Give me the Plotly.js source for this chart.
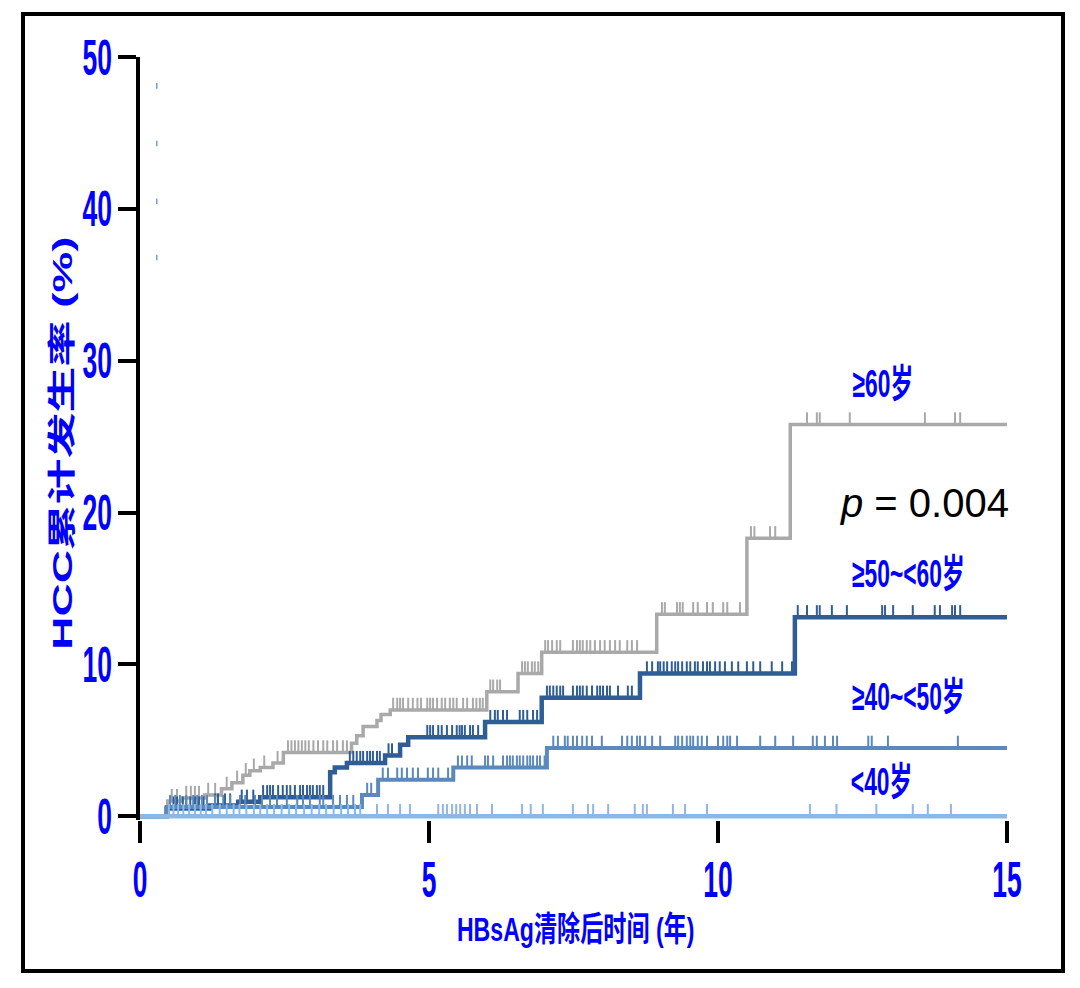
<!DOCTYPE html>
<html>
<head>
<meta charset="utf-8">
<script src="https://cdn.plot.ly/plotly-3.0.1.min.js"></script>
<style>
  html, body { margin: 0; padding: 0; background: #ffffff; }
  #frame { position: absolute; left: 21px; top: 12px; width: 1044px; height: 961px;
           border: 4px solid #000; box-sizing: border-box; }
  #chart { position: absolute; left: 0; top: 0; width: 1080px; height: 988px; }
</style>
</head>
<body>
<div id="frame"></div>
<div id="chart"></div>
<script>
// ---------------- data ----------------
const groupNames = ['≥60岁', '≥50~<60岁', '≥40~<50岁', '<40岁'];
const followUpEnd = 15;
const xTitle = 'HBsAg清除后时间 (年)';
const yTitle = 'HCC累计发生率 (%)';

// ≥60
const eventTimes60 = [0, 0.48, 0.73, 1.12, 1.41, 1.59, 1.78, 1.90, 2.08, 2.30, 2.48, 3.66, 3.75, 3.86, 4.10, 4.17, 4.33, 6.00, 6.54, 6.95, 8.94, 10.50, 11.25];
const cumInc60   = [0, 1.0, 1.2, 1.4, 1.8, 2.2, 2.7, 3.0, 3.2, 3.5, 4.2, 4.8, 5.3, 5.9, 6.3, 6.7, 7.0, 8.2, 9.4, 10.8, 13.3, 18.3, 25.8];
const censor60 = [0.55, 0.64, 0.80, 0.88, 0.95, 1.02, 1.18, 1.30, 1.50, 1.68, 1.83, 1.97, 2.15, 2.38, 2.56, 2.62, 2.68, 2.74, 2.80, 2.86, 2.92, 3.00, 3.08, 3.17, 3.24, 3.34, 3.41, 3.51, 3.58,
  4.38, 4.45, 4.50, 4.55, 4.64, 4.72, 4.80, 4.86, 4.97, 5.02, 5.07, 5.14, 5.22, 5.28, 5.36, 5.42, 5.48, 5.59, 5.66, 5.76, 5.82, 5.88, 5.93,
  6.06, 6.11, 6.18, 6.23, 6.61, 6.66, 6.71, 6.78, 6.83, 6.89,
  7.01, 7.06, 7.13, 7.21, 7.27, 7.49, 7.56, 7.61, 7.66, 7.73, 7.79, 7.87, 7.96, 8.04, 8.13, 8.22, 8.30, 8.43, 8.51, 8.60,
  9.03, 9.08, 9.29, 9.34, 9.39, 9.57, 9.65, 9.81, 9.91, 10.09, 10.16, 10.38,
  10.57, 10.63, 10.90, 10.99, 11.54, 11.71, 11.76, 12.28, 13.58, 14.10, 14.19];

// ≥50~<60
const eventTimes50 = [0, 0.46, 1.21, 1.70, 2.08, 3.29, 3.37, 3.58, 4.24, 4.50, 4.64, 5.97, 6.95, 8.65, 11.33];
const cumInc50   = [0, 0.5, 0.7, 0.95, 1.25, 2.9, 3.2, 3.5, 4.0, 4.7, 5.2, 6.2, 7.8, 9.4, 13.1];
const censor50 = [0.52, 0.58, 0.64, 0.74, 0.80, 0.87, 0.95, 1.02, 1.10, 1.30, 1.35, 1.47, 1.56, 1.76, 1.85, 1.96,
  2.13, 2.20, 2.25, 2.30, 2.39, 2.47, 2.54, 2.60, 2.68, 2.77, 2.82, 2.89, 2.94, 2.99, 3.06, 3.11, 3.17,
  3.63, 3.69, 3.75, 3.81, 3.86, 3.93, 3.98, 4.03, 4.10, 4.15, 4.30, 4.36,
  4.97, 5.02, 5.07, 5.16, 5.22, 5.31, 5.40, 5.48, 5.53, 5.57, 5.62, 5.71, 5.76, 5.85,
  6.06, 6.14, 6.19, 6.28, 6.35, 6.57, 6.63, 6.70, 6.80, 6.87,
  7.04, 7.09, 7.15, 7.21, 7.27, 7.32, 7.49, 7.56, 7.61, 7.66, 7.73, 7.82, 7.91, 7.96, 8.01, 8.08, 8.13, 8.27, 8.44, 8.51,
  8.77, 8.86, 8.96, 9.00, 9.06, 9.12, 9.20, 9.26, 9.31, 9.38, 9.46, 9.52, 9.60, 9.65, 9.74, 9.81, 9.86, 9.95,
  10.03, 10.12, 10.24, 10.35, 10.50, 10.61, 10.73, 10.93, 11.11, 11.28,
  11.38, 11.54, 11.71, 11.76, 11.97, 12.23, 12.84, 12.89, 13.03, 13.37, 13.75, 13.84, 14.05, 14.10, 14.19];

// ≥40~<50
const eventTimes40 = [0, 0.46, 3.84, 4.12, 5.42, 7.04];
const cumInc40   = [0, 0.6, 1.4, 2.4, 3.2, 4.5];
const censor40 = [0.52, 0.61, 0.69, 0.80, 0.92, 0.99, 1.07, 1.16, 1.30, 1.44, 1.56, 1.73, 1.82, 1.99, 2.11, 2.25, 2.37, 2.54, 2.72, 2.82, 2.94, 3.11, 3.17, 3.34, 3.46, 3.58, 3.69,
  3.93, 4.00,
  4.20, 4.29, 4.45, 4.53, 4.62, 4.72, 4.81, 4.98, 5.07, 5.16, 5.33,
  5.50, 5.57, 5.66, 5.74, 5.97, 6.02, 6.11, 6.28, 6.35, 6.40, 6.45, 6.52, 6.57, 6.63, 6.70, 6.75, 6.80, 6.87, 6.92, 7.00,
  7.15, 7.23, 7.35, 7.40, 7.49, 7.56, 7.65, 7.73, 7.82, 7.99, 8.34, 8.43, 8.51, 8.60, 8.65, 8.74, 8.86, 9.00,
  9.26, 9.31, 9.38, 9.46, 9.52, 9.57, 9.65, 9.72, 9.81, 10.00, 10.09, 10.16, 10.21, 10.33, 10.73, 10.99, 11.30,
  11.64, 11.71, 11.85, 11.99, 12.06, 12.60, 12.66, 12.94, 14.15];

// <40
const eventTimesU40 = [0];
const cumIncU40   = [0];
const censorU40 = [0.50, 0.58, 0.66, 0.75, 0.85, 0.95, 1.05, 1.14, 1.25, 1.38, 1.50, 1.62, 1.72, 1.84, 1.97, 2.08, 2.20, 2.32, 2.45, 2.58, 2.70, 2.84, 2.97, 3.10, 3.22, 3.35, 3.48, 3.60, 3.72, 3.81,
  4.10, 4.29, 4.50, 4.67, 5.16, 5.24, 5.31, 5.40, 5.47, 5.54, 5.62, 5.71, 5.83, 6.09, 6.61, 6.76, 6.97,
  7.49, 7.75, 7.84, 8.10, 8.56, 8.70, 8.77, 9.22, 9.43, 9.81, 11.59, 12.05, 12.74, 13.37, 13.63, 14.03];

// stray marks visible in the upper-left of the original figure
const strayX = [0.29, 0.29, 0.29, 0.29];
const strayY = [48.1, 44.3, 40.5, 36.8];

const xTickVals = [0, 5, 10, 15];
const yTickVals = [0, 10, 20, 30, 40, 50];
const pValueText = '<i>p</i> = 0.004';

// ---------------- styling ----------------
const colors = ['#a9a9a9', '#2f5e96', '#5b89bc', '#8cb7e7'];
const lineWidths = [3.5, 4.5, 4, 4.5];
const tickHeight = 0.8;   // censor tick height, in % units
const BLUE = '#0000ff';
const FONT = 'Liberation Sans, Arial, Noto Sans CJK SC, sans-serif';

const series = [
  {t: eventTimes60, v: cumInc60, c: censor60},
  {t: eventTimes50, v: cumInc50, c: censor50},
  {t: eventTimes40, v: cumInc40, c: censor40},
  {t: eventTimesU40, v: cumIncU40, c: censorU40}
];

function stepAt(times, vals, t) {
  let y = vals[0];
  for (let i = 0; i < times.length; i++) { if (times[i] <= t) y = vals[i]; }
  return y;
}

const traces = [];
series.forEach((s, i) => {
  traces.push({
    type: 'scatter', mode: 'lines', name: groupNames[i],
    x: s.t.concat([followUpEnd]), y: s.v.concat([s.v[s.v.length - 1]]),
    line: {shape: 'hv', color: colors[i], width: lineWidths[i]},
    hoverinfo: 'skip'
  });
  traces.push({
    type: 'scatter', mode: 'markers', name: groupNames[i] + ' censored',
    x: s.c, y: s.c.map(t => stepAt(s.t, s.v, t)),
    marker: {size: 1, color: 'rgba(0,0,0,0)'},
    error_y: {type: 'constant', symmetric: false, value: tickHeight, valueminus: 0,
              width: 0, thickness: 2, color: colors[i]},
    hoverinfo: 'skip'
  });
});
traces.push({
  type: 'scatter', mode: 'markers', x: strayX, y: strayY,
  marker: {symbol: 'line-ns-open', size: 4, color: '#6f9fd6', line: {width: 1.5, color: '#6f9fd6'}},
  hoverinfo: 'skip'
});

const labelFont = {family: FONT, size: 39, color: BLUE, weight: 700};
const layout = {
  width: 1080, height: 988,
  margin: {l: 140, r: 73, t: 57, b: 168, pad: 0},
  paper_bgcolor: 'rgba(0,0,0,0)', plot_bgcolor: 'rgba(0,0,0,0)',
  showlegend: false,
  xaxis: {
    range: [0, 15], tickvals: xTickVals, ticktext: xTickVals.map(String),
    ticks: 'outside', ticklen: 22, tickwidth: 4, tickcolor: '#000',
    showline: false, showgrid: false, zeroline: false,
    ticklabelstandoff: -6,
    tickfont: {family: FONT, size: 50, color: BLUE, weight: 700}
  },
  yaxis: {
    range: [-0.25, 50], tickvals: yTickVals, ticktext: yTickVals.map(String),
    ticks: 'outside', ticklen: 18, tickwidth: 4, tickcolor: '#000',
    showline: true, linewidth: 4, linecolor: '#000',
    showgrid: false, zeroline: false,
    ticklabelstandoff: -4,
    tickfont: {family: FONT, size: 50, color: BLUE, weight: 700}
  },
  annotations: [
    {xref: 'paper', yref: 'paper', x: 0.502, y: -0.143, xanchor: 'center', yanchor: 'middle',
     text: xTitle, showarrow: false,
     font: {family: FONT, size: 34, color: BLUE, weight: 700}},
    {xref: 'paper', yref: 'paper', x: -0.090, y: 0.494, xanchor: 'center', yanchor: 'middle',
     text: yTitle, showarrow: false, textangle: -90,
     font: {family: FONT, size: 28, color: BLUE, weight: 700}},
    {x: 12.86, y: 28.5, text: groupNames[0], showarrow: false, font: labelFont},
    {x: 13.3, y: 16.0, text: groupNames[1], showarrow: false, font: labelFont},
    {x: 13.3, y: 7.9, text: groupNames[2], showarrow: false, font: labelFont},
    {x: 12.82, y: 2.3, text: groupNames[3], showarrow: false, font: labelFont},
    {x: 13.58, y: 20.6, text: pValueText, showarrow: false,
     font: {family: FONT, size: 40, color: '#000'}}
  ]
};

function squeeze(el, ratio) {
  const w = el.getComputedTextLength();
  if (w > 0) {
    el.setAttribute('textLength', (w * ratio).toFixed(1));
    el.setAttribute('lengthAdjust', 'spacingAndGlyphs');
  }
}

Plotly.newPlot('chart', traces, layout, {staticPlot: true, displayModeBar: false}).then(gd => {
  gd.querySelectorAll('.xtick text, .ytick text').forEach(t => squeeze(t, 0.53));
  const ratios = [0.68, 1.64, 0.585, 0.585, 0.585, 0.585, 1];
  gd.querySelectorAll('.annotation-text').forEach((t, i) => { if (ratios[i] !== 1) squeeze(t, ratios[i]); });
});
</script>
</body>
</html>
